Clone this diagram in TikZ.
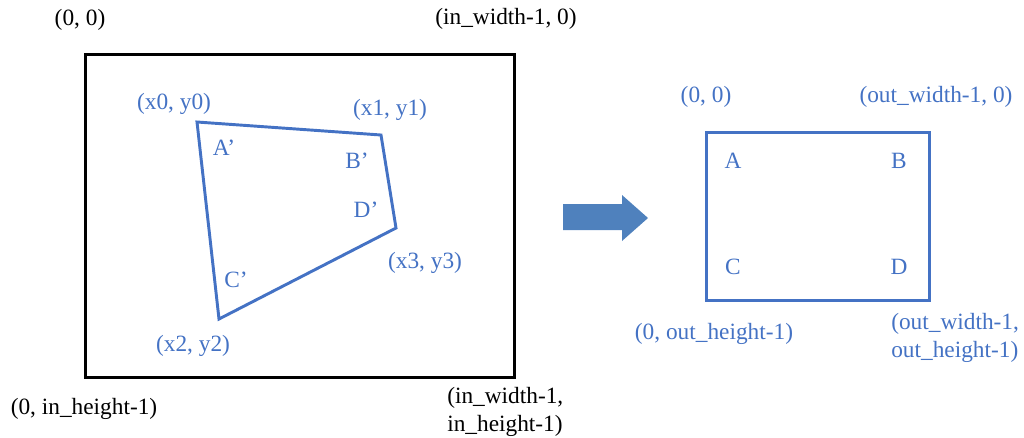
\documentclass[tikz,border=0pt]{standalone}
\usepackage{fontspec}
\setmainfont{Liberation Serif}
\definecolor{quadblue}{HTML}{4472C4}
\definecolor{arrowblue}{HTML}{4F81BD}
\usetikzlibrary{positioning, calc}

\begin{document}
\begin{tikzpicture}[
  x=0.75pt, y=-0.75pt,
  lbl/.style={font=\fontsize{17.5}{21}\selectfont, inner sep=0pt},
  bluelbl/.style={lbl, text=quadblue},
  twoline/.style={align=left, anchor=north west},
  frame/.style={draw=black, line width=2.2pt},
  quad/.style={draw=quadblue, line width=2.2pt, line join=miter}
]
\useasboundingbox (0,0) rectangle (1024,437);

% 输入图像 (in_width x in_height), 429 x 323 px
\node[frame, minimum width=321.75pt, minimum height=242.25pt, anchor=north west] (inimg) at (84,53) {};
\node[lbl] (in00) at (80,20) {(0, 0)};
\node[lbl] (inw0) at (506,19) {(in\_width-1, 0)};
\node[lbl] (in0h) at (84,409) {(0, in\_height-1)};
\node[lbl, twoline] (inwh) at (447,387) {(in\_width-1,\\in\_height-1)};

% 四边形角点
\coordinate (p0) at (197,122);
\coordinate (p1) at (381,135);
\coordinate (p3) at (396,228);
\coordinate (p2) at (219,319);
\draw[quad] (p0) -- (p1) -- (p3) -- (p2) -- cycle;

\node[bluelbl] (xy0) at (174,104) {(x0, y0)};
\node[bluelbl] (xy1) at (390,110) {(x1, y1)};
\node[bluelbl] (xy3) at (425,263) {(x3, y3)};
\node[bluelbl] (xy2) at (193,346) {(x2, y2)};
\node[bluelbl] (ap) at (224,148) {A’};
\node[bluelbl] (bp) at (357,161) {B’};
\node[bluelbl] (dp) at (366,210) {D’};
\node[bluelbl] (cp) at (236,280) {C’};

% 箭头
\fill[arrowblue] (563,204) -- (622,204) -- (622,195) -- (648,218)
  -- (622,241) -- (622,230) -- (563,230) -- cycle;

% 输出图像 (out_width x out_height), 223 x 168 px
\node[quad, minimum width=167.25pt, minimum height=126pt, anchor=north west] (outimg) at (705,131) {};
\node[bluelbl] (out00) at (706,97) {(0, 0)};
\node[bluelbl] (outw0) at (936,97) {(out\_width-1, 0)};
\node[bluelbl] (out0h) at (714,334) {(0, out\_height-1)};
\node[bluelbl, twoline] (outwh) at (891,313) {(out\_width-1,\\out\_height-1)};

\node[bluelbl] (ca) at (733,161) {A};
\node[bluelbl] (cb) at (899,161) {B};
\node[bluelbl] (cc) at (733,267) {C};
\node[bluelbl] (cd) at (899,267) {D};

\end{tikzpicture}
\end{document}
